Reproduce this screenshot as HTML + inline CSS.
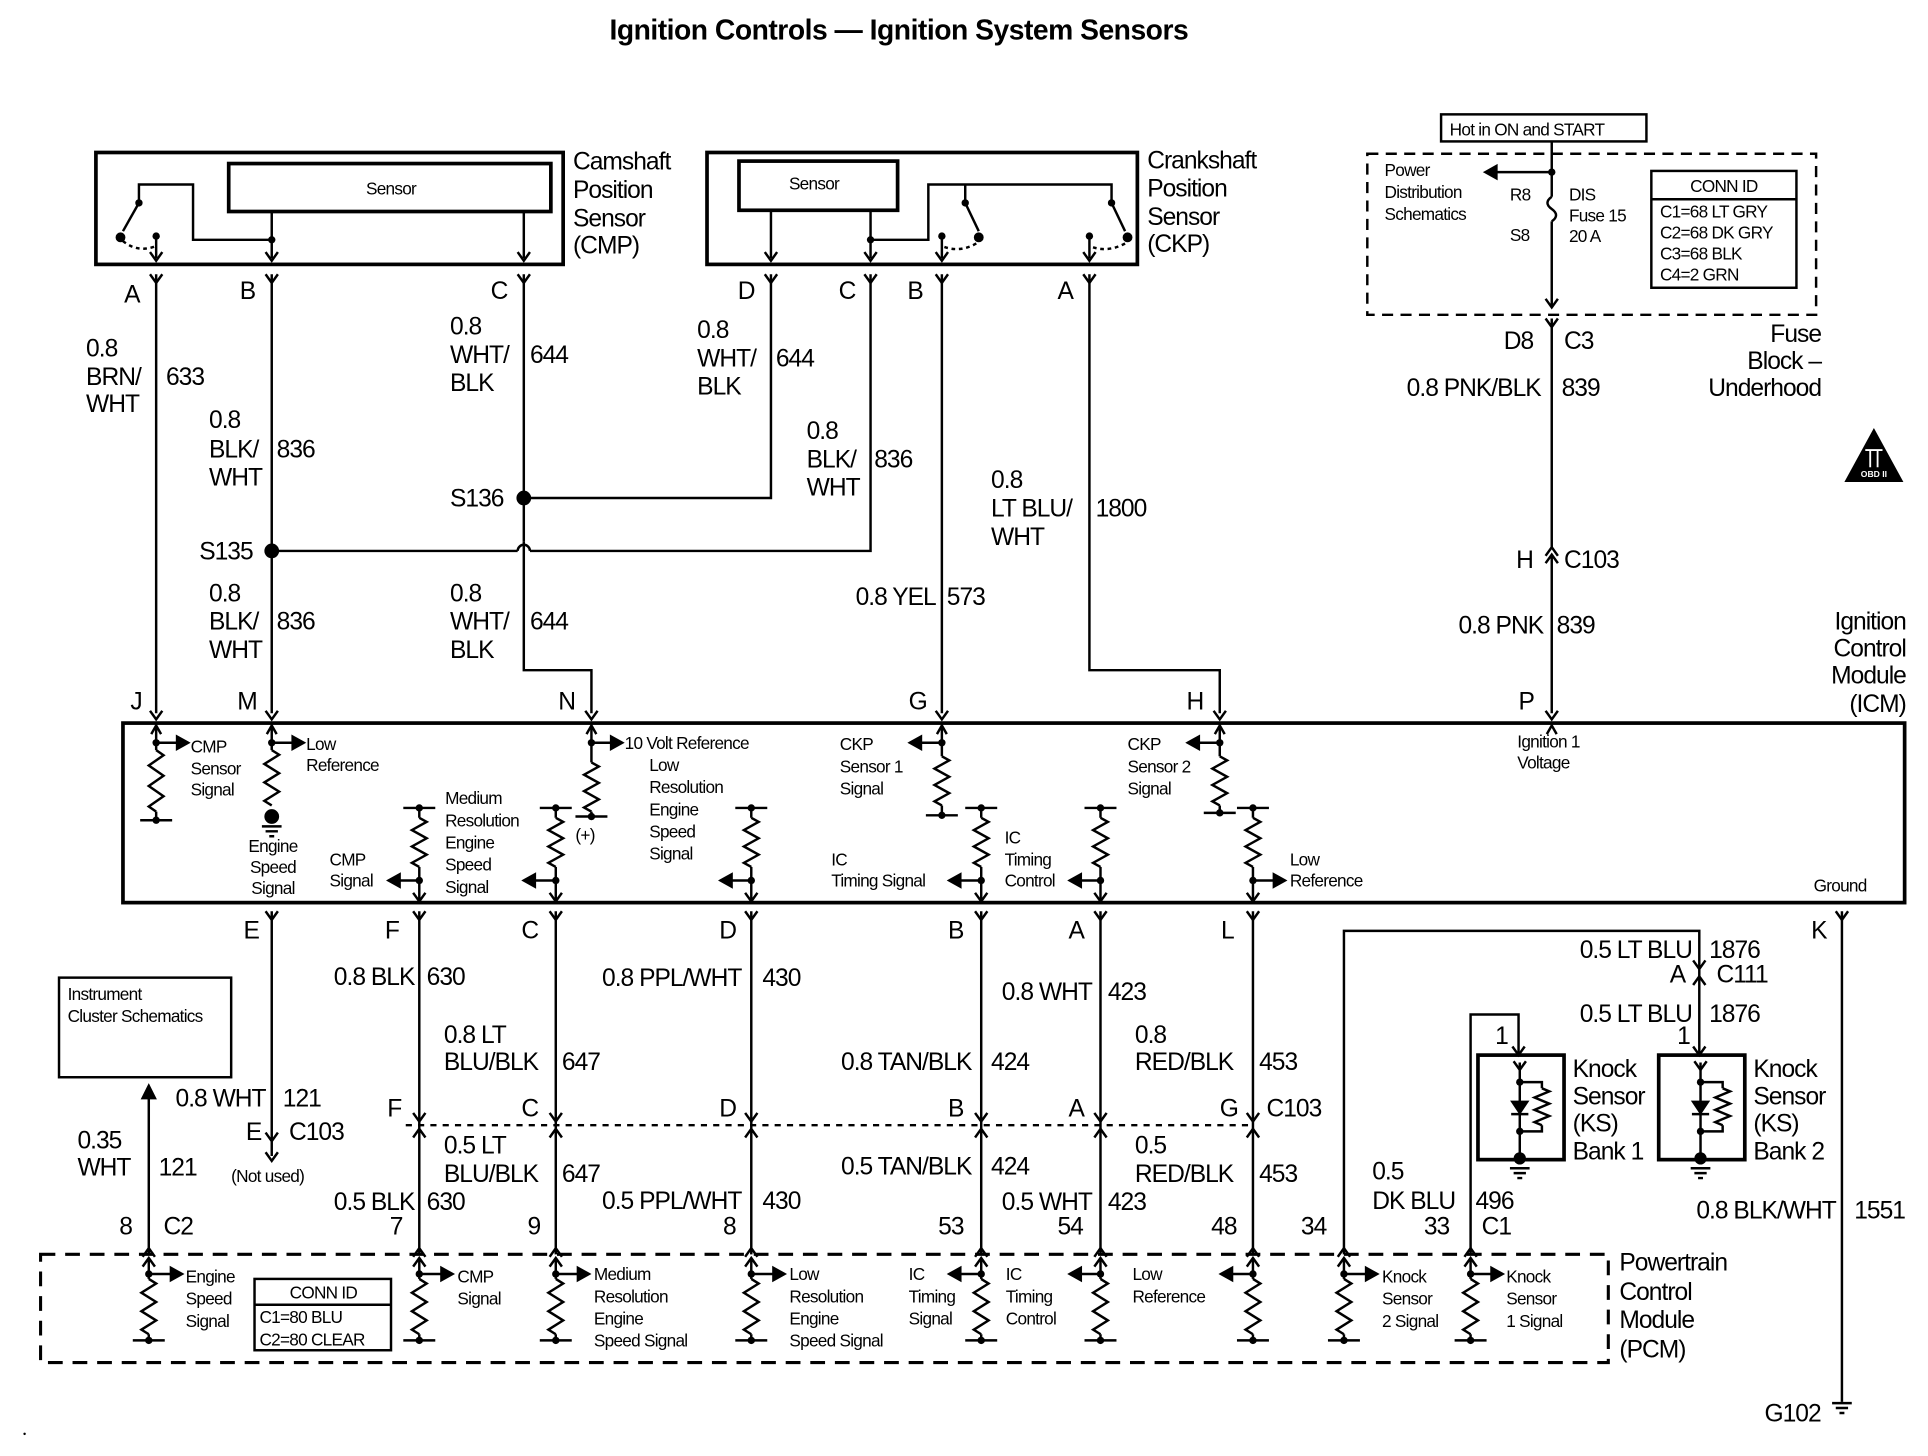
<!DOCTYPE html>
<html><head><meta charset="utf-8"><style>
html,body{margin:0;padding:0;background:#fff}
svg{display:block}
text{font-family:"Liberation Sans",sans-serif;fill:#000}
.L{font-size:20px;letter-spacing:-0.8px}
.S{font-size:14px;letter-spacing:-0.6px}
.T{font-size:23px;font-weight:bold;letter-spacing:-0.4px}
</style></head><body>
<svg id="s" width="1928" height="1456" viewBox="0 0 1568 1184" preserveAspectRatio="none" xmlns="http://www.w3.org/2000/svg">
<g id="g" fill="none" stroke="#000" stroke-width="2"></g>
<text class="T" x="731" y="32" text-anchor="middle">Ignition Controls — Ignition System Sensors</text>
<text class="S" x="318" y="158" text-anchor="middle">Sensor</text>
<text class="L" x="466" y="138">Camshaft</text><text class="L" x="466" y="161">Position</text><text class="L" x="466" y="184">Sensor</text><text class="L" x="466" y="206">(CMP)</text>
<text class="S" x="662" y="154" text-anchor="middle">Sensor</text>
<text class="L" x="933" y="137">Crankshaft</text><text class="L" x="933" y="160">Position</text><text class="L" x="933" y="183">Sensor</text><text class="L" x="933" y="205">(CKP)</text>
<text class="L" x="101" y="246">A</text><text class="L" x="195" y="243">B</text><text class="L" x="399" y="243">C</text>
<text class="L" x="600" y="243">D</text><text class="L" x="682" y="243">C</text><text class="L" x="738" y="243">B</text><text class="L" x="860" y="243">A</text>
<text class="L" x="70" y="290">0.8</text><text class="L" x="70" y="313">BRN/</text><text class="L" x="70" y="335">WHT</text><text class="L" x="135" y="313">633</text>
<text class="L" x="170" y="348">0.8</text><text class="L" x="170" y="372">BLK/</text><text class="L" x="170" y="395">WHT</text><text class="L" x="225" y="372">836</text>
<text class="L" x="162" y="455">S135</text>
<text class="L" x="170" y="489">0.8</text><text class="L" x="170" y="512">BLK/</text><text class="L" x="170" y="535">WHT</text><text class="L" x="225" y="512">836</text>
<text class="L" x="366" y="272">0.8</text><text class="L" x="366" y="295">WHT/</text><text class="L" x="366" y="318">BLK</text><text class="L" x="431" y="295">644</text>
<text class="L" x="366" y="412">S136</text>
<text class="L" x="366" y="489">0.8</text><text class="L" x="366" y="512">WHT/</text><text class="L" x="366" y="535">BLK</text><text class="L" x="431" y="512">644</text>
<text class="L" x="567" y="275">0.8</text><text class="L" x="567" y="298">WHT/</text><text class="L" x="567" y="321">BLK</text><text class="L" x="631" y="298">644</text>
<text class="L" x="656" y="357">0.8</text><text class="L" x="656" y="380">BLK/</text><text class="L" x="656" y="403">WHT</text><text class="L" x="711" y="380">836</text>
<text class="L" x="761" y="492" text-anchor="end">0.8 YEL</text><text class="L" x="770" y="492">573</text>
<text class="L" x="806" y="397">0.8</text><text class="L" x="806" y="420">LT BLU/</text><text class="L" x="806" y="443">WHT</text><text class="L" x="891" y="420">1800</text>
<text class="S" x="1179" y="110">Hot in ON and START</text>
<text class="S" x="1126" y="143">Power</text><text class="S" x="1126" y="161">Distribution</text><text class="S" x="1126" y="179">Schematics</text>
<text class="S" x="1228" y="163">R8</text><text class="S" x="1228" y="196">S8</text>
<text class="S" x="1276" y="163">DIS</text><text class="S" x="1276" y="180">Fuse 15</text><text class="S" x="1276" y="197">20 A</text>
<text class="S" x="1402" y="156" text-anchor="middle">CONN ID</text>
<text class="S" x="1350" y="177">C1=68 LT GRY</text><text class="S" x="1350" y="194">C2=68 DK GRY</text><text class="S" x="1350" y="211">C3=68 BLK</text><text class="S" x="1350" y="228">C4=2 GRN</text>
<text class="L" x="1223" y="284">D8</text><text class="L" x="1272" y="284">C3</text>
<text class="L" x="1481" y="278" text-anchor="end">Fuse</text><text class="L" x="1481" y="300" text-anchor="end">Block –</text><text class="L" x="1481" y="322" text-anchor="end">Underhood</text>
<text class="L" x="1253" y="322" text-anchor="end">0.8 PNK/BLK</text><text class="L" x="1270" y="322">839</text>
<text class="L" x="1233" y="462">H</text><text class="L" x="1272" y="462">C103</text>
<text class="L" x="1255" y="515" text-anchor="end">0.8 PNK</text><text class="L" x="1266" y="515">839</text>
<text class="L" x="1550" y="512" text-anchor="end">Ignition</text><text class="L" x="1550" y="534" text-anchor="end">Control</text><text class="L" x="1550" y="556" text-anchor="end">Module</text><text class="L" x="1550" y="579" text-anchor="end">(ICM)</text>
<text class="L" x="106" y="577">J</text><text class="L" x="193" y="577">M</text><text class="L" x="454" y="577">N</text><text class="L" x="739" y="577">G</text><text class="L" x="965" y="577">H</text><text class="L" x="1235" y="577">P</text>
<text class="S" x="155" y="612">CMP</text><text class="S" x="155" y="630">Sensor</text><text class="S" x="155" y="647">Signal</text>
<text class="S" x="249" y="610">Low</text><text class="S" x="249" y="627">Reference</text>
<text class="S" x="222" y="693" text-anchor="middle">Engine</text><text class="S" x="222" y="710" text-anchor="middle">Speed</text><text class="S" x="222" y="727" text-anchor="middle">Signal</text>
<text class="S" x="268" y="704">CMP</text><text class="S" x="268" y="721">Signal</text>
<text class="S" x="362" y="654">Medium</text><text class="S" x="362" y="672">Resolution</text><text class="S" x="362" y="690">Engine</text><text class="S" x="362" y="708">Speed</text><text class="S" x="362" y="726">Signal</text>
<text class="S" x="508" y="609">10 Volt Reference</text><text class="S" x="468" y="684">(+)</text>
<text class="S" x="528" y="627">Low</text><text class="S" x="528" y="645">Resolution</text><text class="S" x="528" y="663">Engine</text><text class="S" x="528" y="681">Speed</text><text class="S" x="528" y="699">Signal</text>
<text class="S" x="683" y="610">CKP</text><text class="S" x="683" y="628">Sensor 1</text><text class="S" x="683" y="646">Signal</text>
<text class="S" x="676" y="704">IC</text><text class="S" x="676" y="721">Timing Signal</text>
<text class="S" x="817" y="686">IC</text><text class="S" x="817" y="704">Timing</text><text class="S" x="817" y="721">Control</text>
<text class="S" x="917" y="610">CKP</text><text class="S" x="917" y="628">Sensor 2</text><text class="S" x="917" y="646">Signal</text>
<text class="S" x="1049" y="704">Low</text><text class="S" x="1049" y="721">Reference</text>
<text class="S" x="1234" y="608">Ignition 1</text><text class="S" x="1234" y="625">Voltage</text>
<text class="S" x="1475" y="725">Ground</text>
<text class="L" x="198" y="763">E</text><text class="L" x="313" y="763">F</text><text class="L" x="424" y="763">C</text><text class="L" x="585" y="763">D</text><text class="L" x="771" y="763">B</text><text class="L" x="869" y="763">A</text><text class="L" x="993" y="763">L</text><text class="L" x="1473" y="763">K</text>
<text class="S" x="55" y="813">Instrument</text><text class="S" x="55" y="831">Cluster Schematics</text>
<text class="L" x="216" y="900" text-anchor="end">0.8 WHT</text><text class="L" x="230" y="900">121</text>
<text class="L" x="200" y="927">E</text><text class="L" x="235" y="927">C103</text>
<text class="S" x="188" y="961">(Not used)</text>
<text class="L" x="63" y="934">0.35</text><text class="L" x="63" y="956">WHT</text><text class="L" x="129" y="956">121</text>
<text class="L" x="97" y="1004">8</text><text class="L" x="133" y="1004">C2</text>
<text class="L" x="337" y="801" text-anchor="end">0.8 BLK</text><text class="L" x="347" y="801">630</text>
<text class="L" x="315" y="908">F</text>
<text class="L" x="337" y="984" text-anchor="end">0.5 BLK</text><text class="L" x="347" y="984">630</text><text class="L" x="317" y="1004">7</text>
<text class="L" x="361" y="848">0.8 LT</text><text class="L" x="361" y="870">BLU/BLK</text><text class="L" x="457" y="870">647</text>
<text class="L" x="424" y="908">C</text>
<text class="L" x="361" y="938">0.5 LT</text><text class="L" x="361" y="961">BLU/BLK</text><text class="L" x="457" y="961">647</text><text class="L" x="429" y="1004">9</text>
<text class="L" x="603" y="802" text-anchor="end">0.8 PPL/WHT</text><text class="L" x="620" y="802">430</text>
<text class="L" x="585" y="908">D</text>
<text class="L" x="603" y="983" text-anchor="end">0.5 PPL/WHT</text><text class="L" x="620" y="983">430</text><text class="L" x="588" y="1004">8</text>
<text class="L" x="790" y="870" text-anchor="end">0.8 TAN/BLK</text><text class="L" x="806" y="870">424</text>
<text class="L" x="771" y="908">B</text>
<text class="L" x="790" y="955" text-anchor="end">0.5 TAN/BLK</text><text class="L" x="806" y="955">424</text><text class="L" x="763" y="1004">53</text>
<text class="L" x="888" y="813" text-anchor="end">0.8 WHT</text><text class="L" x="901" y="813">423</text>
<text class="L" x="869" y="908">A</text>
<text class="L" x="888" y="984" text-anchor="end">0.5 WHT</text><text class="L" x="901" y="984">423</text><text class="L" x="860" y="1004">54</text>
<text class="L" x="923" y="848">0.8</text><text class="L" x="923" y="870">RED/BLK</text><text class="L" x="1024" y="870">453</text>
<text class="L" x="992" y="908">G</text><text class="L" x="1030" y="908">C103</text>
<text class="L" x="923" y="938">0.5</text><text class="L" x="923" y="961">RED/BLK</text><text class="L" x="1024" y="961">453</text><text class="L" x="985" y="1004">48</text>
<text class="L" x="1376" y="779" text-anchor="end">0.5 LT BLU</text><text class="L" x="1390" y="779">1876</text>
<text class="L" x="1358" y="799">A</text><text class="L" x="1396" y="799">C111</text>
<text class="L" x="1376" y="831" text-anchor="end">0.5 LT BLU</text><text class="L" x="1390" y="831">1876</text><text class="L" x="1364" y="849">1</text>
<text class="L" x="1216" y="849">1</text>
<text class="L" x="1279" y="876">Knock</text><text class="L" x="1279" y="898">Sensor</text><text class="L" x="1279" y="920">(KS)</text><text class="L" x="1279" y="943">Bank 1</text>
<text class="L" x="1426" y="876">Knock</text><text class="L" x="1426" y="898">Sensor</text><text class="L" x="1426" y="920">(KS)</text><text class="L" x="1426" y="943">Bank 2</text>
<text class="L" x="1116" y="959">0.5</text><text class="L" x="1116" y="983">DK BLU</text><text class="L" x="1200" y="983">496</text>
<text class="L" x="1158" y="1004">33</text><text class="L" x="1205" y="1004">C1</text><text class="L" x="1058" y="1004">34</text>
<text class="L" x="1493" y="991" text-anchor="end">0.8 BLK/WHT</text><text class="L" x="1508" y="991">1551</text>
<text class="L" x="1435" y="1156">G102</text>
<text class="L" x="1317" y="1033">Powertrain</text><text class="L" x="1317" y="1057">Control</text><text class="L" x="1317" y="1080">Module</text><text class="L" x="1317" y="1104">(PCM)</text>
<text class="S" x="151" y="1043">Engine</text><text class="S" x="151" y="1061">Speed</text><text class="S" x="151" y="1079">Signal</text>
<text class="S" x="263" y="1056" text-anchor="middle">CONN ID</text><text class="S" x="211" y="1076">C1=80 BLU</text><text class="S" x="211" y="1094">C2=80 CLEAR</text>
<text class="S" x="372" y="1043">CMP</text><text class="S" x="372" y="1061">Signal</text>
<text class="S" x="483" y="1041">Medium</text><text class="S" x="483" y="1059">Resolution</text><text class="S" x="483" y="1077">Engine</text><text class="S" x="483" y="1095">Speed Signal</text>
<text class="S" x="642" y="1041">Low</text><text class="S" x="642" y="1059">Resolution</text><text class="S" x="642" y="1077">Engine</text><text class="S" x="642" y="1095">Speed Signal</text>
<text class="S" x="739" y="1041">IC</text><text class="S" x="739" y="1059">Timing</text><text class="S" x="739" y="1077">Signal</text>
<text class="S" x="818" y="1041">IC</text><text class="S" x="818" y="1059">Timing</text><text class="S" x="818" y="1077">Control</text>
<text class="S" x="921" y="1041">Low</text><text class="S" x="921" y="1059">Reference</text>
<text class="S" x="1124" y="1043">Knock</text><text class="S" x="1124" y="1061">Sensor</text><text class="S" x="1124" y="1079">2 Signal</text>
<text class="S" x="1225" y="1043">Knock</text><text class="S" x="1225" y="1061">Sensor</text><text class="S" x="1225" y="1079">1 Signal</text>
<text x="1524" y="388" text-anchor="middle" style="font-size:7px;fill:#fff;font-weight:bold">OBD II</text>
</svg>
<script>
var g=document.getElementById('g'),NS='http://www.w3.org/2000/svg';
function el(t,a){var e=document.createElementNS(NS,t);for(var k in a)e.setAttribute(k,a[k]);g.appendChild(e);return e}
function P(d,a){a=a||{};a.d=d;return el('path',a)}
function R(x,y,w,h,sw,da){return el('rect',{x:x,y:y,width:w,height:h,'stroke-width':sw||2,'stroke-dasharray':da||'none'})}
function dot(x,y,r){el('circle',{cx:x,cy:y,r:r||4,fill:'#000',stroke:'none'})}
function vdn(x,y){P('M'+(x-5)+' '+(y-7)+'L'+x+' '+y+'L'+(x+5)+' '+(y-7))}
function vup(x,y){P('M'+(x-5)+' '+(y+7)+'L'+x+' '+y+'L'+(x+5)+' '+(y+7))}
function res(x,y1,y2){var n=6,h=(y2-y1)/n,d='M'+x+' '+y1;for(var i=0;i<n;i++){d+='L'+(x+(i%2?-6:6))+' '+(y1+h*i+h/2);}d+='L'+x+' '+y2;P(d)}
function arrR(x,y,x2){P('M'+x+' '+y+'L'+(x2-8)+' '+y);el('path',{d:'M'+x2+' '+y+'l-9 -5v10z',fill:'#000'})}
function arrL(x,y,x2){P('M'+x+' '+y+'L'+(x2+8)+' '+y);el('path',{d:'M'+x2+' '+y+'l9 -5v10z',fill:'#000'})}
function bar(x,y){P('M'+(x-13)+' '+y+'L'+(x+13)+' '+y);dot(x,y,3)}
function gnd(x,y){P('M'+(x-8)+' '+y+'h16M'+(x-5)+' '+(y+4)+'h10M'+(x-2)+' '+(y+8)+'h4')}
R(78,124,380,91,3);R(186,133,262,39,3);
R(575,124,350,91,3);R(601,131,129,40,3);
P('M221 172V210');vdn(221,212);P('M426 172V210');vdn(426,212);
P('M221 195H157V150H113V165');dot(113,165,3);P('M113 165L100 188');dot(98,193,4);dot(127,192,3);
P('M100 196Q112 206 127 200',{'stroke-dasharray':'3 3'});P('M127 192V210');vdn(127,212);dot(221,195,3);
P('M627 171V210');vdn(627,212);P('M708 171V210');vdn(708,212);dot(708,195,3);
P('M708 195H755V150H904V165');P('M785 150V165');dot(785,165,3);P('M785 165L796 188');dot(796,193,4);dot(766,192,3);
P('M794 198Q780 206 766 200',{'stroke-dasharray':'3 3'});P('M766 192V210');vdn(766,212);
dot(904,165,3);P('M904 165L915 188');dot(917,193,4);dot(886,192,3);P('M915 198Q900 206 886 200',{'stroke-dasharray':'3 3'});P('M886 192V210');vdn(886,212);
[127,221,426,627,708,766,886].forEach(function(x){vdn(x,230)});
P('M127 223V580');P('M221 223V580');P('M426 223V400');P('M426 410V440');P('M426 440V545H481V580');
P('M421 448a5 5 0 0 1 10 0');P('M221 448H421M431 448H708V223');dot(221,448,6);
P('M426 405H627V223');dot(426,405,6);
P('M766 223V580');P('M886 223V545H992V580');
R(1172,93,167,22,2);R(1112,125,365,131,2,'9 6');R(1343,139,118,95,2);P('M1343 162H1461');
P('M1262 115V160');P('M1262 160q-7 5 0 10q7 5 0 10');P('M1262 180V250');vdn(1262,250);dot(1262,140,3);
arrL(1262,140,1208);
vdn(1262,266);P('M1262 259V445');P('M1257 452L1262 445L1267 452M1257 458L1262 451L1267 458');P('M1262 451V580');
el('path',{d:'M1524 348L1500 392H1548Z',fill:'#000',stroke:'none'});
P('M1517 366h14M1521 366v14M1527 366v14',{stroke:'#fff','stroke-width':1.5});
R(100,588,1449,146,3);
[127,221,481,766,992,1262].forEach(function(x){vdn(x,585);P('M'+(x-4)+' 597L'+x+' 590L'+(x+4)+' 597')});
P('M127 590V610');res(127,610,660);P('M127 660V667');bar(127,667);dot(127,604,3);arrR(127,604,153);
P('M221 590V610');res(221,610,655);dot(221,664,6);gnd(221,672);dot(221,604,3);arrR(221,604,247);
P('M481 590V620');res(481,620,660);P('M481 660V664');bar(481,664);dot(481,604,3);arrR(481,604,506);
P('M766 590V615');res(766,615,655);P('M766 655V663');bar(766,663);dot(766,604,3);arrL(766,604,740);
P('M992 590V615');res(992,615,655);P('M992 655V661');bar(992,661);dot(992,604,3);arrL(992,604,966);
[[341,-1,316],[452,-1,426],[611,-1,586],[798,-1,772],[895,-1,870],[1019,1,1045]].forEach(function(a){var x=a[0];bar(x,657);P('M'+x+' 657V665');res(x,665,705);P('M'+x+' 705V733');dot(x,716,3);if(a[1]<0)arrL(x,716,a[2]);else arrR(x,716,a[2]);vdn(x,733)});
[221,341,452,611,798,895,1019,1498].forEach(function(x){vdn(x,748)});
P('M221 741V940');vdn(221,928);vdn(221,944);
R(48,795,140,81,2);
P('M121 1020V890');el('path',{d:'M121 883l-5 10h10z',fill:'#000'});
[341,452,611,798,895,1019].forEach(function(x){P('M'+x+' 741V1020');vdn(x,912);vup(x,918)});
P('M330 915H1019',{'stroke-dasharray':'5 5'});
P('M1093 1020V757H1382V858');vdn(1382,788);vup(1382,794);vdn(1382,858);
P('M1196 1020V825H1235V858');vdn(1235,858);
[1236,1383].forEach(function(x){R(x-34,858,70,85,3);vdn(x,870);P('M'+x+' 864V942');dot(x,880,3);dot(x,920,3);
 P('M'+x+' 880H'+(x+18)+'V885');res(x+18,885,915);P('M'+(x+18)+' 915V920H'+x);
 el('path',{d:'M'+(x-6)+' 896h12l-6 9z',fill:'#000'});P('M'+(x-7)+' 906h14');dot(x,942,5);gnd(x,950)});
P('M1498 741V1140');gnd(1498,1141);
R(33,1020,1275,88,2.5,'12 8');R(207,1040,111,58,2);P('M207 1061H318');
[121,341,452,611,798,895,1019,1093,1196].forEach(function(x){vup(x,1015);vup(x,1023);P('M'+x+' 1023V1040');res(x,1040,1085);P('M'+x+' 1085V1090');bar(x,1090);dot(x,1036,3)});
[[121,1,148],[341,1,368],[452,1,479],[611,1,638],[798,-1,772],[895,-1,870],[1019,-1,993],[1093,1,1120],[1196,1,1222]].forEach(function(a){if(a[1]>0)arrR(a[0],1036,a[2]);else arrL(a[0],1036,a[2])});
dot(20,1166,1);
</script>
</body></html>
